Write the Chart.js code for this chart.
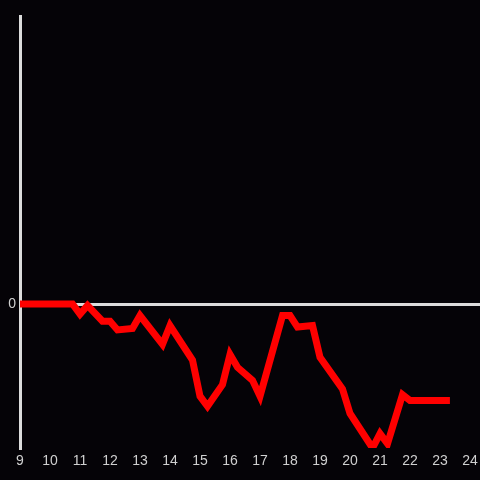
<!DOCTYPE html>
<html>
<head>
<meta charset="utf-8">
<script src="https://cdn.jsdelivr.net/npm/chart.js@4"></script>
<style>
  html, body { margin: 0; padding: 0; background: #050307; }
  #wrap { width: 480px; height: 480px; }
</style>
</head>
<body>
<div id="wrap"><canvas id="chart" width="480" height="480"></canvas></div>
<script>
// hours of the day (x) and the value at each reading (y)
const hours = [9, 10.75, 11, 11.25, 11.75, 12, 12.25, 12.75, 13, 13.75, 14, 14.75, 15, 15.25,
  15.75, 16, 16.25, 16.75, 17, 17.75, 18, 18.25, 18.75, 19, 19.75, 20, 20.75, 21, 21.25,
  21.75, 22, 23.33];
const values = [0, 0, -0.07, -0.01, -0.12, -0.12, -0.18, -0.17, -0.08, -0.28, -0.15, -0.39, -0.64, -0.71,
  -0.56, -0.35, -0.44, -0.53, -0.64, -0.08, -0.08, -0.16, -0.15, -0.37, -0.59, -0.76, -1.0, -0.90, -0.97,
  -0.63, -0.67, -0.67];
const xTicks = [9, 10, 11, 12, 13, 14, 15, 16, 17, 18, 19, 20, 21, 22, 23, 24];
const yTicks = [0];

const axisColor = '#dcdcdc';
const labelColor = '#d0d0d0';

const ctx = document.getElementById('chart');
const chart = new Chart(ctx, {
  type: 'line',
  data: {
    datasets: [{
      data: hours.map((h, i) => ({ x: h, y: values[i] })),
      borderColor: '#ff0000',
      borderWidth: 7,
      borderJoinStyle: 'miter',
      pointRadius: 0,
      tension: 0,
      fill: false
    }]
  },
  options: {
    responsive: false,
    animation: false,
    layout: { padding: { top: 16, right: 0, left: 0, bottom: 0 } },
    plugins: { legend: { display: false }, tooltip: { enabled: false } },
    scales: {
      x: {
        type: 'linear',
        min: 9,
        max: 24.333,
        afterBuildTicks: axis => { axis.ticks = xTicks.map(v => ({ value: v })); },
        afterFit: axis => { axis.height = 32; axis.paddingRight = 0; axis.paddingLeft = 0; },
        ticks: {
          color: labelColor,
          font: { family: 'Liberation Sans, Arial, sans-serif', size: 14 },
          padding: 5,
          maxRotation: 0,
          autoSkip: false
        },
        grid: { display: false, drawTicks: false },
        border: { display: false }
      },
      y: {
        min: -1,
        max: 2,
        afterBuildTicks: axis => { axis.ticks = yTicks.map(v => ({ value: v })); },
        afterFit: axis => { axis.width = 20; },
        ticks: {
          color: labelColor,
          font: { family: 'Liberation Sans, Arial, sans-serif', size: 14 },
          padding: 4
        },
        grid: { color: axisColor, lineWidth: 3, drawTicks: false },
        border: { display: true, color: axisColor, width: 3 }
      }
    }
  }
});
</script>
</body>
</html>
